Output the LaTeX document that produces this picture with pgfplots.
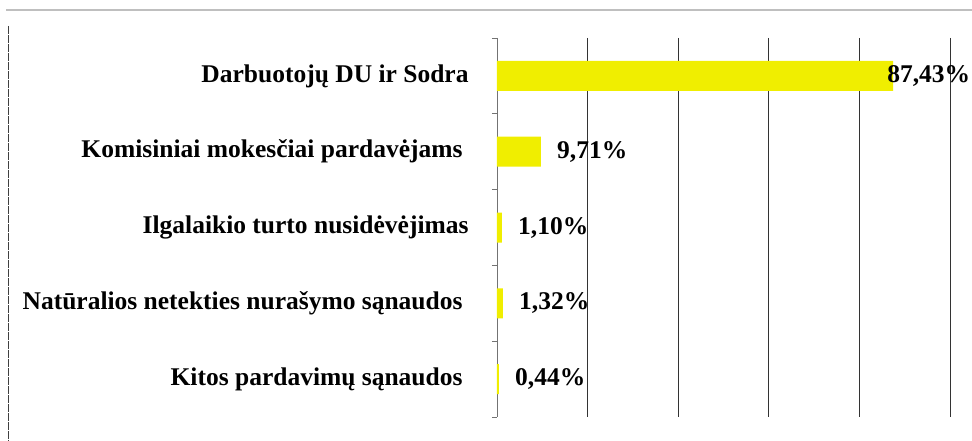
\documentclass[border=0pt]{standalone}
\usepackage{fontspec}
\setmainfont{Liberation Serif}
\usepackage{pgfplots}
\usepackage{pgfplotstable}
\pgfplotsset{compat=1.18}
\definecolor{barYellow}{HTML}{F0EE00}

% y = category position (0 at top), dx = shift of the value label
\pgfplotstableread{
y x dx
0 87.43 -6
1 9.71 16
2 1.10 16
3 1.32 16
4 0.44 16
}\costs

\begin{document}
\begin{tikzpicture}
\path[use as bounding box] (0,0) rectangle (972pt,441pt);
% outer frame of the scanned chart
\draw[black!25, line width=1.2pt] (6pt,431pt) -- (972pt,431pt);
\draw[black!75, line width=0.8pt, dash pattern=on 8pt off 1pt] (8pt,415pt) -- (8pt,0pt);
\begin{axis}[
    at={(497pt,24pt)},
    anchor=south west,
    scale only axis,
    width=453pt,
    height=379pt,
    xbar,
    bar width=30pt,
    xmin=0, xmax=100,
    ymin=-0.5, ymax=4.5,
    y dir=reverse,
    axis lines*=left,
    x axis line style={draw=none},
    y axis line style={black!55, line width=0.8pt},
    xtick={20,40,60,80,100},
    xticklabels={},
    major x tick style={draw=none},
    xmajorgrids,
    grid style={black!80, line width=0.8pt},
    ytick={0,1,2,3,4},
    yticklabels={
        Darbuotojų DU ir Sodra,
        Komisiniai mokesčiai pardavėjams\kern6pt,
        Ilgalaikio turto nusidėvėjimas,
        Natūralios netekties nurašymo sąnaudos\kern6pt,
        Kitos pardavimų sąnaudos\kern6pt},
    major y tick style={draw=none},
    minor ytick={-0.5,0.5,1.5,2.5,3.5,4.5},
    minor y tick style={black!55, line width=0.8pt},
    minor tick length=5pt,
    tick align=outside,
    yticklabel style={font=\fontsize{25.5}{30}\selectfont\bfseries, anchor=east, inner sep=0pt},
    yticklabel shift=24pt,
    point meta=x,
    visualization depends on={\thisrow{dx} \as \dx},
    nodes near coords={\pgfmathprintnumber[fixed,fixed zerofill,precision=2,use comma,assume math mode=true]{\pgfplotspointmeta}\%},
    nodes near coords style={font=\fontsize{25.5}{30}\selectfont\bfseries, anchor=west, inner sep=0pt, xshift=\dx pt},
    clip=false,
]
\addplot[fill=barYellow, draw=none] table[x=x, y=y] {\costs};
\end{axis}
\end{tikzpicture}
\end{document}
